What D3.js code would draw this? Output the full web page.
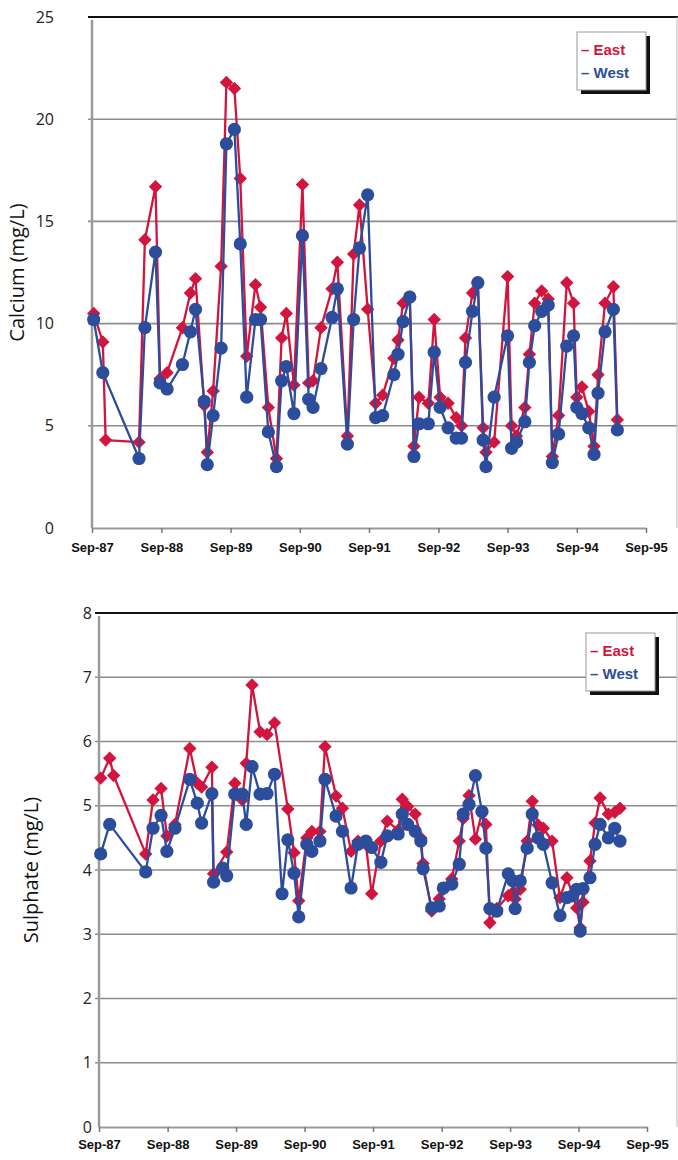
<!DOCTYPE html>
<html>
<head>
<meta charset="utf-8">
<script src="https://cdn.jsdelivr.net/npm/d3@7"></script>
<style>
body { margin: 0; background: #fff; }
svg { display: block; font-family: "Open Sans", sans-serif; }
</style>
</head>
<body>
<div id="chart"></div>
<script>
// calcium samples (mg/L)
const calDates = [
  "1987-09-10","1987-10-28","1987-11-12","1988-05-06","1988-06-06","1988-08-01","1988-08-25","1988-10-01",
  "1988-12-21","1989-02-01","1989-02-28","1989-04-15","1989-05-01","1989-06-01","1989-07-13","1989-08-10",
  "1989-09-21","1989-10-22","1989-11-25","1990-01-10","1990-02-06","1990-03-19","1990-05-01","1990-05-28",
  "1990-06-22","1990-08-01","1990-09-15","1990-10-18","1990-11-10","1990-12-22","1991-02-18","1991-03-18",
  "1991-05-10","1991-06-12","1991-07-13","1991-08-25","1991-10-06","1991-11-12","1992-01-10","1992-02-01",
  "1992-02-28","1992-04-03","1992-04-25","1992-05-22","1992-07-10","1992-08-10","1992-09-10","1992-10-22",
  "1992-12-04","1993-01-01","1993-01-22","1993-02-28","1993-03-28","1993-04-25","1993-05-10","1993-06-22",
  "1993-09-01","1993-09-22","1993-10-18","1993-12-01","1993-12-25","1994-01-22","1994-02-28","1994-04-03",
  "1994-04-25","1994-05-28","1994-07-10","1994-08-15","1994-09-01","1994-09-28","1994-11-03","1994-12-01",
  "1994-12-22","1995-01-28","1995-03-13","1995-04-03"
];
const calEast = [
  10.5, 9.1, 4.3, 4.2, 14.1, 16.7, 7.3, 7.6, 9.8, 11.5, 12.2, 6.0, 3.7, 6.7, 12.8, 21.8,
  21.5, 17.1, 8.4, 11.9, 10.8, 5.9, 3.4, 9.3, 10.5, 7.0, 16.8, 7.1, 7.2, 9.8, 11.7, 13.0,
  4.5, 13.4, 15.8, 10.7, 6.1, 6.5, 8.3, 9.2, 11.0, 11.3, 4.0, 6.4, 6.1, 10.2, 6.4, 6.1,
  5.4, 5.0, 9.3, 11.5, 12.0, 4.9, 3.7, 4.2, 12.3, 5.0, 4.5, 5.9, 8.5, 11.0, 11.6, 11.2,
  3.5, 5.5, 12.0, 11.0, 6.4, 6.9, 5.7, 4.0, 7.5, 11.0, 11.8, 5.3
];
const calWest = [
  10.2, 7.6, null, 3.4, 9.8, 13.5, 7.1, 6.8, 8.0, 9.6, 10.7, 6.2, 3.1, 5.5, 8.8, 18.8,
  19.5, 13.9, 6.4, 10.2, 10.2, 4.7, 3.0, 7.2, 7.9, 5.6, 14.3, 6.3, 5.9, 7.8, 10.3, 11.7,
  4.1, 10.2, 13.7, 16.3, 5.4, 5.5, 7.5, 8.5, 10.1, 11.3, 3.5, 5.1, 5.1, 8.6, 5.9, 4.9,
  4.4, 4.4, 8.1, 10.6, 12.0, 4.3, 3.0, 6.4, 9.4, 3.9, 4.2, 5.2, 8.1, 9.9, 10.6, 10.9,
  3.2, 4.6, 8.9, 9.4, 5.9, 5.6, 4.9, 3.6, 6.6, 9.6, 10.7, 4.8
];

// sulphate samples (mg/L)
const sulDates = [
  "1987-09-10","1987-10-28","1987-11-18","1988-05-07","1988-06-15","1988-07-28","1988-08-28","1988-10-10",
  "1988-12-28","1989-02-06","1989-03-01","1989-04-25","1989-05-04","1989-06-22","1989-07-13","1989-08-25",
  "1989-10-04","1989-10-25","1989-11-25","1990-01-07","1990-02-13","1990-03-25","1990-05-04","1990-06-04",
  "1990-07-07","1990-08-01","1990-09-13","1990-10-10","1990-11-22","1990-12-19","1991-02-16","1991-03-22",
  "1991-05-07","1991-06-13","1991-07-25","1991-08-25","1991-10-13","1991-11-16","1992-01-13","1992-02-04",
  "1992-03-04","1992-04-13","1992-05-13","1992-05-25","1992-07-10","1992-08-19","1992-09-10","1992-10-25",
  "1992-12-04","1992-12-25","1993-01-25","1993-02-28","1993-04-04","1993-04-25","1993-05-16","1993-06-22",
  "1993-08-22","1993-09-16","1993-09-28","1993-10-25","1993-12-01","1993-12-28","1994-01-28","1994-02-25",
  "1994-04-13","1994-05-25","1994-07-01","1994-08-01","1994-08-22","1994-09-10","1994-09-25","1994-11-01",
  "1994-11-28","1994-12-25","1995-02-07","1995-03-13","1995-04-10"
];
const sulEast = [
  5.43, 5.74, 5.47, 4.25, 5.09, 5.27, 4.53, 4.71, 5.89, 5.35, 5.29, 5.60, 3.94, null, 4.28, 5.35,
  5.09, 5.66, 6.88, 6.15, 6.11, 6.29, null, 4.95, 4.27, 3.52, 4.50, 4.60, 4.60, 5.92, 5.15, 4.96,
  4.29, 4.45, 4.40, 3.63, 4.45, 4.76, 4.62, 5.10, 4.99, 4.87, 4.50, 4.10, 3.36, 3.55, 3.70, 3.86,
  4.45, 4.80, 5.16, 4.48, 4.90, 4.71, 3.18, 3.40, 3.60, 3.65, 3.55, 3.70, 4.45, 5.07, 4.70, 4.65,
  4.45, 3.57, 3.88, 3.60, 3.41, 3.10, 3.50, 4.14, 4.73, 5.12, 4.87, 4.90, 4.96
];
const sulWest = [
  4.25, 4.71, null, 3.97, 4.65, 4.85, 4.29, 4.65, 5.41, 5.04, 4.73, 5.19, 3.81, 4.03, 3.91, 5.18,
  5.18, 4.71, 5.61, 5.18, 5.19, 5.49, 3.63, 4.47, 3.95, 3.27, 4.40, 4.29, 4.45, 5.41, 4.84, 4.60,
  3.72, 4.40, 4.45, 4.35, 4.12, 4.53, 4.56, 4.87, 4.71, 4.60, 4.45, 4.02, 3.41, 3.44, 3.72, 3.78,
  4.09, 4.87, 5.02, 5.47, 4.91, 4.34, 3.40, 3.36, 3.94, 3.83, 3.40, 3.83, 4.34, 4.87, 4.50, 4.40,
  3.80, 3.29, 3.57, 3.60, 3.70, 3.05, 3.71, 3.88, 4.40, 4.71, 4.50, 4.65, 4.45
];

const xTickDates = ["1987-09-01","1988-09-01","1989-09-01","1990-09-01","1991-09-01",
                    "1992-09-01","1993-09-01","1994-09-01","1995-09-01"];
const calTicks = [0, 5, 10, 15, 20, 25];
const sulTicks = [0, 1, 2, 3, 4, 5, 6, 7, 8];
const seriesNames = ["East", "West"];

const RED = "#d2153e";
const BLUE = "#2c4c9c";
const GRID = "#8c8c8c";

const parse = d3.timeParse("%Y-%m-%d");

const svg = d3.select("#chart").append("svg")
    .attr("width", 678)
    .attr("height", 1160);

const drawPanel = (p) => {
    const x = d3.scaleTime()
        .domain([parse(xTickDates[0]), parse(xTickDates[xTickDates.length - 1])])
        .range([p.left, p.xEnd]);
    const y = d3.scaleLinear().domain([0, d3.max(p.yTicks)]).range([p.bottom, p.top]);

    const g = svg.append("g");

    // gridlines
    g.selectAll(".grid")
        .data(p.yTicks.filter(v => v > 0 && v < d3.max(p.yTicks)))
        .enter().append("line")
        .attr("x1", p.left - 4).attr("x2", p.right)
        .attr("y1", d => y(d)).attr("y2", d => y(d))
        .attr("stroke", GRID).attr("stroke-width", 1.6);

    // frame: black top line, grey right and left edges
    g.append("line")
        .attr("x1", p.left - 4).attr("x2", 678)
        .attr("y1", p.top).attr("y2", p.top)
        .attr("stroke", "#111").attr("stroke-width", 2);
    g.append("line")
        .attr("x1", p.right).attr("x2", p.right)
        .attr("y1", p.top).attr("y2", p.bottom)
        .attr("stroke", "#bbb").attr("stroke-width", 1);
    g.append("line")
        .attr("x1", p.left).attr("x2", p.left)
        .attr("y1", p.top + 3).attr("y2", p.bottom)
        .attr("stroke", "#9a9a9a").attr("stroke-width", 2.5);

    // y labels
    const yAxis = g.append("g")
        .attr("transform", `translate(${p.left},0)`)
        .call(d3.axisLeft(y).tickValues(p.yTicks).tickSize(0).tickPadding(p.yPad));
    yAxis.select(".domain").remove();
    yAxis.selectAll("text")
        .attr("font-size", 16).attr("fill", "#222")
        .attr("font-family", "'Open Sans', sans-serif");

    // x axis
    const xAxis = g.append("g")
        .attr("transform", `translate(0,${p.bottom})`)
        .call(d3.axisBottom(x)
            .tickValues(xTickDates.map(parse))
            .tickFormat(d3.timeFormat("%b-%y"))
            .tickSize(5)
            .tickPadding(p.xPad)
            .tickSizeOuter(0));
    xAxis.select(".domain")
        .attr("stroke", "#999").attr("stroke-width", 2);
    xAxis.selectAll(".tick line").attr("stroke", "#777").attr("stroke-width", 1.5);
    xAxis.selectAll("text")
        .attr("font-size", 13).attr("font-weight", "bold").attr("fill", "#111")
        .attr("font-family", "'Liberation Sans', Arial, sans-serif");

    // axis title
    g.append("text")
        .attr("transform", `translate(${p.titleX},${(p.top + p.bottom) / 2}) rotate(-90)`)
        .attr("text-anchor", "middle")
        .attr("font-size", 20).attr("fill", "#111")
        .text(p.title);

    const line = d3.line().x(d => x(d.date)).y(d => y(d.v));

    const series = [
        {name: seriesNames[0], vals: p.east, color: RED, shape: "diamond"},
        {name: seriesNames[1], vals: p.west, color: BLUE, shape: "circle"}
    ];

    series.forEach(s => {
        const pts = p.dates.map((d, i) => ({date: parse(d), v: s.vals[i]}))
            .filter(d => d.v !== null);

        g.append("path")
            .datum(pts)
            .attr("d", line)
            .attr("fill", "none")
            .attr("stroke", s.color)
            .attr("stroke-width", 2.3)
            .attr("stroke-linejoin", "round");

        if (s.shape === "circle") {
            g.selectAll(null)
                .data(pts)
                .enter().append("circle")
                .attr("cx", d => x(d.date))
                .attr("cy", d => y(d.v))
                .attr("r", 6.6)
                .attr("fill", s.color);
        } else {
            g.selectAll(null)
                .data(pts)
                .enter().append("path")
                .attr("d", d3.symbol(d3.symbolSquare, 90))
                .attr("transform", d => `translate(${x(d.date)},${y(d.v)}) rotate(45)`)
                .attr("fill", s.color);
        }
    });

    // legend
    const lg = g.append("g").attr("transform", `translate(${p.legend[0]},${p.legend[1]})`);
    lg.append("rect")
        .attr("x", 4).attr("y", 4).attr("width", 69).attr("height", 58)
        .attr("fill", "#111");
    lg.append("rect")
        .attr("width", 69).attr("height", 58)
        .attr("fill", "#fff").attr("stroke", "#999").attr("stroke-width", 1);
    series.forEach((s, i) => {
        lg.append("text")
            .attr("x", 4).attr("y", 23 + i * 23)
            .attr("font-size", 15).attr("font-weight", "bold")
            .attr("font-family", "'Liberation Sans', Arial, sans-serif")
            .attr("fill", s.color)
            .text("\u2013 " + s.name);
    });
};

drawPanel({
    title: "Calcium (mg/L)",
    dates: calDates, east: calEast, west: calWest, yTicks: calTicks,
    left: 92, right: 677, xEnd: 646, top: 17, bottom: 528,
    yPad: 38, xPad: 10, titleX: 24, legend: [577, 32]
});

drawPanel({
    title: "Sulphate (mg/L)",
    dates: sulDates, east: sulEast, west: sulWest, yTicks: sulTicks,
    left: 99, right: 677, xEnd: 647, top: 613, bottom: 1127,
    yPad: 7, xPad: 8, titleX: 38, legend: [586, 633]
});
</script>
</body>
</html>
